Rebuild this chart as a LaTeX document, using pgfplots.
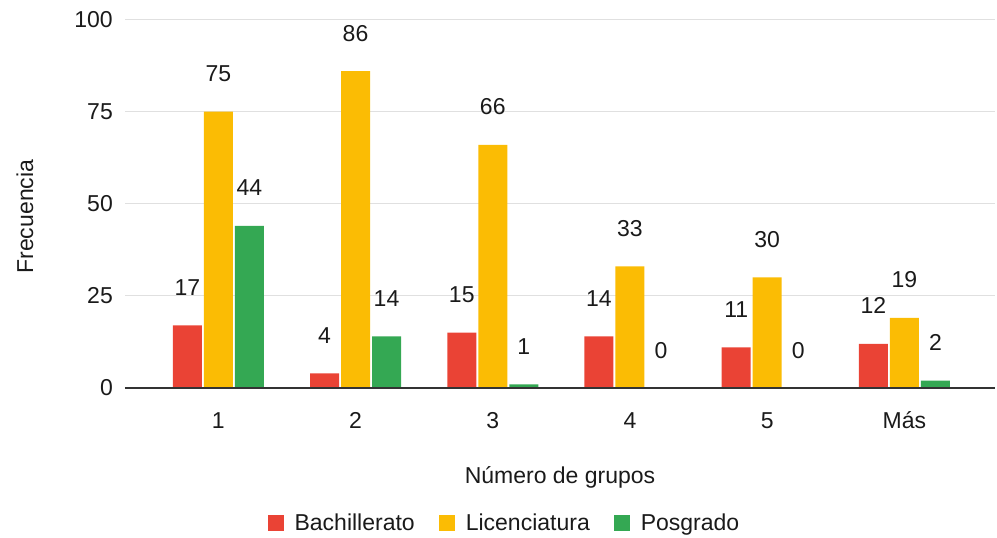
\documentclass[border=0pt]{standalone}
\usepackage{pgfplots}
\pgfplotsset{compat=1.18}
\usepackage{fontspec}
\setmainfont{Liberation Sans}
\definecolor{cRed}{HTML}{EA4335}
\definecolor{cYel}{HTML}{FBBC04}
\definecolor{cGrn}{HTML}{34A853}
\definecolor{cGrid}{HTML}{E0E0E0}
\definecolor{cBase}{HTML}{333333}
\definecolor{cText}{HTML}{1A1A1A}
\begin{document}
\fontsize{23pt}{27pt}\selectfont
\begin{tikzpicture}
\useasboundingbox (-125pt,-150pt) rectangle (872pt,388pt);
\begin{axis}[
  scale only axis,
  width=870pt, height=368.5pt,
  anchor=south west, at={(0pt,0pt)},
  xmin=-0.68, xmax=5.66, ymin=0, ymax=100,
  ybar=2pt, bar width=29pt,
  xtick={0,1,2,3,4,5},
  xticklabels={1,2,3,4,5,Más},
  ytick={0,25,50,75,100},
  ymajorgrids, major grid style={cGrid, line width=1pt},
  axis line style={draw=none},
  major tick style={draw=none},
  minor tick style={draw=none},
  /pgf/number format/assume math mode=true,
  font=\fontsize{23pt}{27pt}\selectfont,
  tick label style={text=cText, font=\fontsize{23pt}{27pt}\selectfont},
  xticklabel style={anchor=base, yshift=-36.5pt, inner sep=0pt},
  yticklabel style={anchor=east, xshift=-12pt, inner sep=0pt},
  xlabel={Número de grupos},
  xlabel style={at={(axis description cs:0.5,-0.244)}, anchor=center, text=cText},
  ylabel={Frecuencia},
  ylabel style={at={(axis description cs:-0.115,0.465)}, anchor=center, rotate=0, text=cText},
  nodes near coords,
  nodes near coords style={anchor=base, yshift=30pt, text=cText, font=\fontsize{23pt}{27pt}\selectfont},
  legend columns=3,
  legend style={at={(axis description cs:0.435,-0.368)}, anchor=center, draw=none, fill=none,
    font=\fontsize{23pt}{27pt}\selectfont, text=cText,
    nodes={inner sep=0pt},
    /tikz/every odd column/.append style={column sep=11pt},
    /tikz/every even column/.append style={column sep=24pt}},
  sq/.style={legend image code/.code={\fill[##1] (0pt,-7pt) rectangle (16pt,9pt);}},
]
\addplot[fill=cRed, draw=none, sq] coordinates {(0,17) (1,4) (2,15) (3,14) (4,11) (5,12)};
\addplot[fill=cYel, draw=none, sq] coordinates {(0,75) (1,86) (2,66) (3,33) (4,30) (5,19)};
\addplot[fill=cGrn, draw=none, sq] coordinates {(0,44) (1,14) (2,1) (3,0) (4,0) (5,2)};
\legend{Bachillerato, Licenciatura, Posgrado}
\draw[cBase, line width=1.3pt] (rel axis cs:0,0) -- (rel axis cs:1,0);
\end{axis}
\end{tikzpicture}
\end{document}
